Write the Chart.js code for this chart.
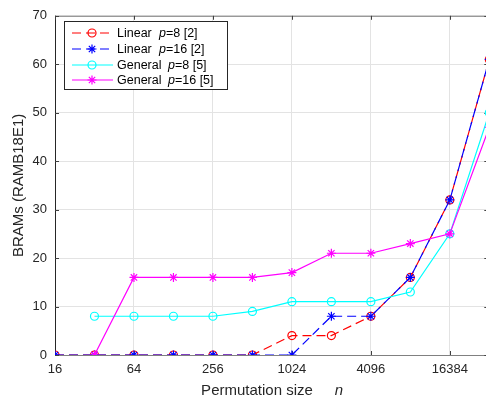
<!DOCTYPE html>
<html>
<head>
<meta charset="utf-8">
<script src="https://cdn.jsdelivr.net/npm/chart.js@4.4.0/dist/chart.umd.min.js"></script>
<style>
html, body { margin: 0; padding: 0; background: #fff; overflow: hidden; }
#wrap { width: 495px; height: 401px; }
</style>
</head>
<body>
<div id="wrap"><canvas id="chart1" width="495" height="401"></canvas></div>
<script>
// Data
const sizes = [16, 32, 64, 128, 256, 512, 1024, 2048, 4096, 8192, 16384, 32768];
const linearP8 = [0, 0, 0, 0, 0, 0, 4, 4, 8, 16, 32, 61];
const linearP16 = [0, 0, 0, 0, 0, 0, 0, 8, 8, 16, 32, 61];
const generalP8 = [null, 8, 8, 8, 8, 9, 11, 11, 11, 13, 25, 50];
const generalP16 = [null, 0, 16, 16, 16, 16, 17, 21, 21, 23, 25, 47];
const xTicks = [16, 64, 256, 1024, 4096, 16384];
const yTicks = [0, 10, 20, 30, 40, 50, 60, 70];

const legendItems = [
    { name: 'Linear', p: '=8 [2]', color: '#ff0000', style: 'circle', dash: [9, 5], px: 159 },
    { name: 'Linear', p: '=16 [2]', color: '#0000ff', style: 'star', dash: [9, 5], px: 159 },
    { name: 'General', p: '=8 [5]', color: '#00ffff', style: 'circle', dash: [], px: 168 },
    { name: 'General', p: '=16 [5]', color: '#ff00ff', style: 'star', dash: [], px: 168 }
];

const FONT = '"Liberation Sans", Arial, sans-serif';

function pts(values) {
    return sizes.map((s, i) => ({ x: s, y: values[i] }));
}

function makeSet(label, values, color, style, dash, order) {
    return {
        label: label,
        data: pts(values),
        borderColor: color,
        backgroundColor: 'rgba(0,0,0,0)',
        borderWidth: 1.2,
        borderDash: dash,
        pointStyle: style,
        pointRadius: style === 'star' ? 4.5 : 4,
        pointBorderColor: color,
        pointBorderWidth: 1.2,
        pointBackgroundColor: 'rgba(0,0,0,0)',
        tension: 0,
        spanGaps: false,
        order: order
    };
}

// frame, inward ticks, axis titles and the boxed legend
const decorations = {
    id: 'decorations',
    beforeDatasetsDraw(chart) {
        const ctx = chart.ctx;
        const a = chart.chartArea;
        const xs = chart.scales.x, ys = chart.scales.y;
        ctx.save();
        ctx.lineWidth = 1;
        ctx.strokeStyle = '#808080';
        ctx.beginPath();
        ctx.moveTo(a.left, a.top + 0.5); ctx.lineTo(a.right, a.top + 0.5);
        ctx.moveTo(a.left, a.bottom + 0.5); ctx.lineTo(a.right, a.bottom + 0.5);
        ctx.stroke();
        ctx.strokeStyle = '#262626';
        ctx.beginPath();
        ctx.moveTo(a.left + 0.5, a.top); ctx.lineTo(a.left + 0.5, a.bottom + 1);
        ctx.stroke();
        // inward ticks
        ctx.strokeStyle = '#404040';
        ctx.beginPath();
        xTicks.forEach(v => {
            const x = Math.round(xs.getPixelForValue(v)) + 0.5;
            ctx.moveTo(x, a.bottom); ctx.lineTo(x, a.bottom - 4);
            ctx.moveTo(x, a.top); ctx.lineTo(x, a.top + 4);
        });
        yTicks.forEach(v => {
            const y = Math.round(ys.getPixelForValue(v)) + 0.5;
            ctx.moveTo(a.left, y); ctx.lineTo(a.left + 4, y);
            ctx.moveTo(a.right, y); ctx.lineTo(a.right - 5, y);
        });
        ctx.stroke();
        ctx.restore();
    },
    afterDraw(chart) {
        const ctx = chart.ctx;
        const a = chart.chartArea;
        ctx.save();
        ctx.fillStyle = '#262626';
        ctx.textBaseline = 'alphabetic';

        // x title
        ctx.font = '15px ' + FONT;
        const t1 = 'Permutation size';
        const w1 = ctx.measureText(t1).width;
        ctx.font = 'italic 15px ' + FONT;
        const wn = ctx.measureText('n').width;
        const gap = 22;
        const total = w1 + gap + wn;
        const x0 = (a.left + a.right) / 2 - total / 2;
        ctx.font = '15px ' + FONT;
        ctx.textAlign = 'left';
        ctx.fillText(t1, x0, 395);
        ctx.font = 'italic 15px ' + FONT;
        ctx.fillText('n', x0 + w1 + gap, 395);

        // y title
        ctx.save();
        ctx.translate(23, (a.top + a.bottom) / 2);
        ctx.rotate(-Math.PI / 2);
        ctx.font = '15px ' + FONT;
        ctx.textAlign = 'center';
        ctx.fillText('BRAMs (RAMB18E1)', 0, 0);
        ctx.restore();

        // legend box
        ctx.fillStyle = '#ffffff';
        ctx.fillRect(64.5, 21.5, 163, 68);
        ctx.strokeStyle = '#262626';
        ctx.lineWidth = 1;
        ctx.strokeRect(64.5, 21.5, 163, 68);
        const rows = [33, 49, 65, 80];
        legendItems.forEach((it, i) => {
            const y = rows[i];
            ctx.save();
            ctx.strokeStyle = it.color;
            ctx.fillStyle = 'rgba(0,0,0,0)';
            ctx.lineWidth = 1.2;
            ctx.setLineDash(it.dash);
            ctx.beginPath();
            ctx.moveTo(72, y); ctx.lineTo(113, y);
            ctx.stroke();
            ctx.setLineDash([]);
            Chart.helpers.drawPoint(ctx, {
                pointStyle: it.style,
                radius: it.style === 'star' ? 4.5 : 4,
                rotation: 0,
                borderWidth: 1.2
            }, 92, y);
            ctx.restore();
            ctx.fillStyle = '#000000';
            ctx.textAlign = 'left';
            ctx.textBaseline = 'middle';
            ctx.font = '12.5px ' + FONT;
            ctx.fillText(it.name, 117, y + 1);
            ctx.font = 'italic 12.5px ' + FONT;
            ctx.fillText('p', it.px, y + 1);
            const pw = ctx.measureText('p').width;
            ctx.font = '12.5px ' + FONT;
            ctx.fillText(it.p, it.px + pw, y + 1);
        });
        ctx.restore();
    }
};

let chart1 = new Chart(document.getElementById('chart1'), {
    type: 'line',
    data: {
        datasets: [
            makeSet('Linear p=8 [2]', linearP8, '#ff0000', 'circle', [9, 5], 4),
            makeSet('Linear p=16 [2]', linearP16, '#0000ff', 'star', [9, 5], 3),
            makeSet('General p=8 [5]', generalP8, '#00ffff', 'circle', [], 2),
            makeSet('General p=16 [5]', generalP16, '#ff00ff', 'star', [], 1)
        ]
    },
    options: {
        responsive: false,
        animation: false,
        layout: { padding: { top: 7, right: 2, left: 0, bottom: 0 } },
        plugins: {
            legend: { display: false },
            tooltip: { enabled: false }
        },
        scales: {
            x: {
                type: 'logarithmic',
                min: 16,
                max: 32768,
                afterBuildTicks: scale => { scale.ticks = xTicks.map(v => ({ value: v })); },
                afterFit: scale => { scale.height = 46; },
                border: { display: false },
                grid: { color: '#e3e3e3', drawTicks: false },
                ticks: {
                    autoSkip: false,
                    maxRotation: 0,
                    padding: 7,
                    color: '#262626',
                    font: { family: FONT, size: 13 },
                    callback: v => String(v)
                }
            },
            y: {
                min: 0,
                max: 70,
                afterBuildTicks: scale => { scale.ticks = yTicks.map(v => ({ value: v })); },
                afterFit: scale => { scale.width = 55; },
                border: { display: false },
                grid: { color: '#e3e3e3', drawTicks: false },
                ticks: {
                    padding: 8,
                    color: '#262626',
                    font: { family: FONT, size: 13 }
                }
            }
        }
    },
    plugins: [decorations]
});
</script>
</body>
</html>
